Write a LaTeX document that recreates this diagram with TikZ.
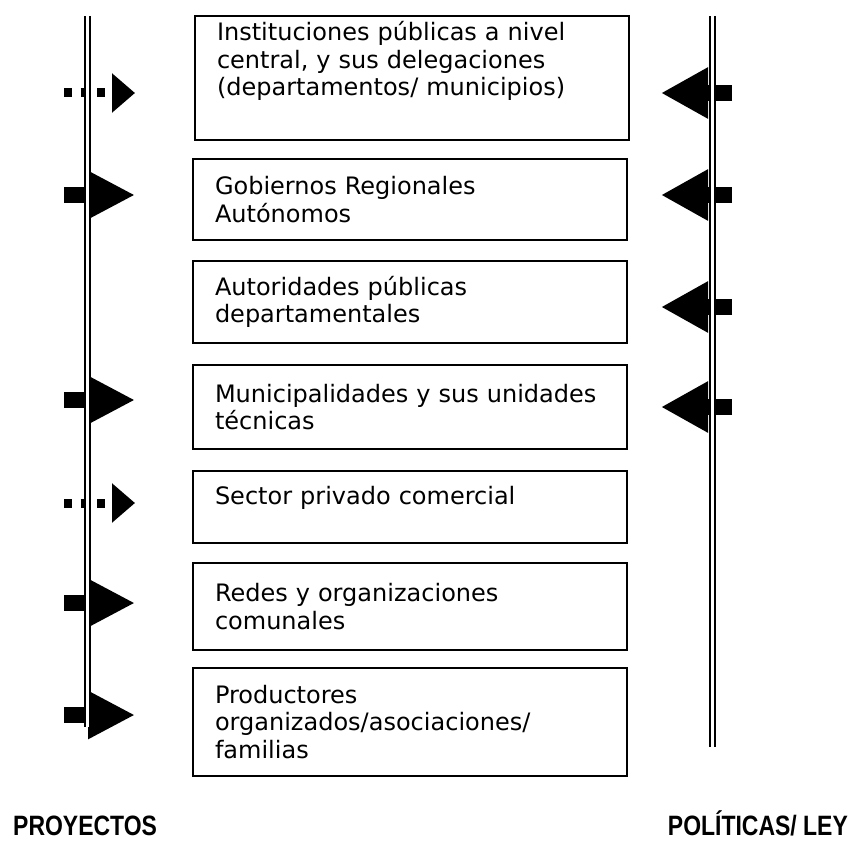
\documentclass[tikz,border=0pt]{standalone}
\usepackage{fontspec}
\setmainfont{DejaVu Sans}
\newfontfamily\axisfont{Liberation Sans Bold}[FakeStretch=0.82]
\usetikzlibrary{arrows.meta, positioning}

\begin{document}
\begin{tikzpicture}[x=1pt, y=-1pt,
        entity/.style = {
            rectangle,
            draw,
            line width=1.4pt,
            outer sep=0pt,
            text width = 390pt,
            inner xsep = 22pt,
            inner ysep = 0pt,
            align = left,
            font = \fontsize{24}{27.5}\selectfont
        },
        axis_label/.style = {
            inner sep=0pt,
            font = \fontsize{28}{30}\axisfont
        },
        axis_line/.style = {
            draw,
            line width=2pt,
            double distance=3pt
        },
        strong_flow/.style = {
            line width=16pt,
            -{Triangle[length=47pt, width=45pt]}
        },
        weak_flow/.style = {
            line width=9pt,
            dash pattern=on 8pt off 8.5pt,
            -{Triangle[length=23pt, width=38pt]}
        },
        policy_flow/.style = {
            line width=16pt,
            -{Triangle[length=47pt, width=48pt]}
        }
        ]

        \useasboundingbox (0,0) rectangle (850,840);

        \node (inst) [entity, minimum height=124pt, minimum width=432pt] at (412,78)
            {Instituciones públicas a nivel\\central, y sus delegaciones\\(departamentos/ municipios)\\[3pt]\strut};
        \node (gob) [entity, minimum height=81pt, below=19pt of inst, xshift=-2pt]
            {Gobiernos Regionales\\Autónomos};
        \node (aut) [entity, minimum height=82pt, below=21pt of gob]
            {Autoridades públicas\\departamentales};
        \node (muni) [entity, minimum height=84pt, below=22pt of aut]
            {Municipalidades y sus unidades\\técnicas};
        \node (priv) [entity, minimum height=72pt, below=22pt of muni]
            {Sector privado comercial\\[-13.5pt]\strut};
        \node (redes) [entity, minimum height=87pt, below=20pt of priv]
            {Redes y organizaciones\\comunales};
        \node (prod) [entity, minimum height=108pt, below=18pt of redes]
            {Productores\\organizados/asociaciones/\\familias};

        \node (proy) [axis_label, anchor=base west] at (13,835) {PROYECTOS};
        \node (poli) [axis_label, anchor=base east] at (848,835) {POLÍTICAS/ LEY};

        % ends of the two axes
        \coordinate (proy_top) at (87.5,16);
        \coordinate (proy_bot) at (87.5,727);
        \coordinate (poli_top) at (712.5,16);
        \coordinate (poli_bot) at (712.5,747);

        % arrows from the projects axis
        \foreach \y/\kind in {93/weak_flow, 195/strong_flow, 400/strong_flow,
                              503/weak_flow, 603/strong_flow, 715/strong_flow}
        {
            \coordinate (ps\y) at (64,\y);
            \coordinate (pe\y) at (135,\y);
            \draw[\kind] (ps\y) -- (pe\y);
        }

        % arrows from the policies axis
        \foreach \y in {93, 195, 307, 407}
        {
            \coordinate (ls\y) at (732,\y);
            \coordinate (le\y) at (661,\y);
            \draw[policy_flow] (ls\y) -- (le\y);
        }

        \path[axis_line] (proy_top) -- (proy_bot);
        \path[axis_line] (poli_top) -- (poli_bot);

    \end{tikzpicture}
\end{document}
